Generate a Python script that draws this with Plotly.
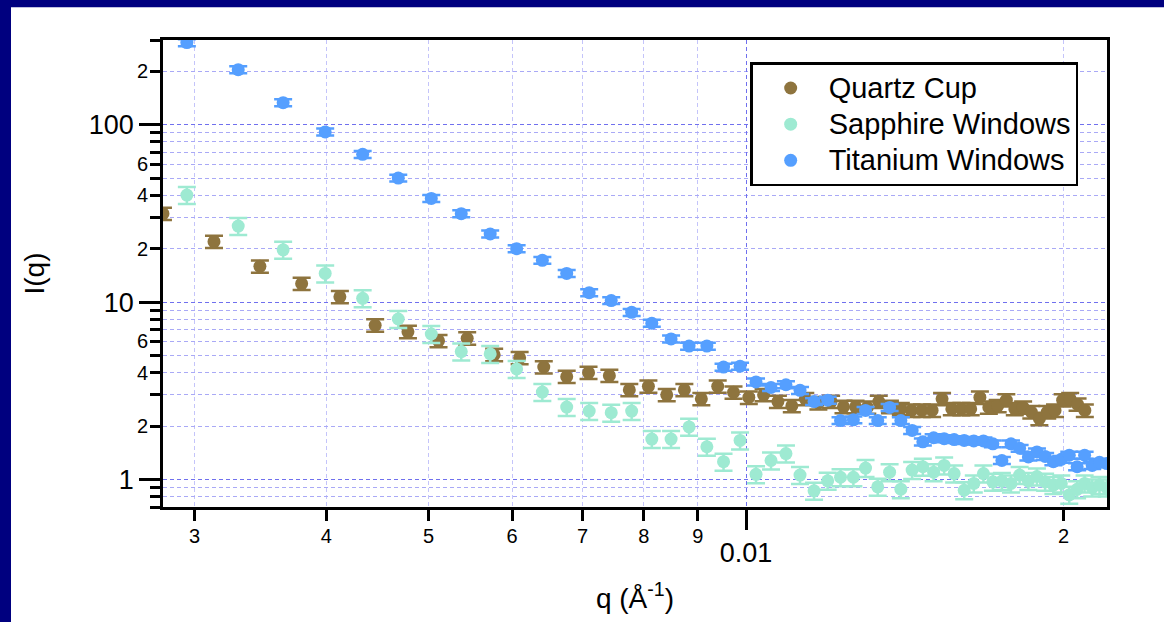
import plotly.graph_objects as go

# ---------------- data ----------------
q_quartz = [0.00280, 0.00313, 0.00346, 0.00379, 0.00412, 0.00445, 0.00478, 0.00511,
            0.00544, 0.00577, 0.00610, 0.00643, 0.00676, 0.00709, 0.00742, 0.00775,
            0.00808, 0.00841, 0.00874, 0.00907, 0.00940, 0.00973, 0.01006, 0.01039,
            0.01072, 0.01105, 0.01138, 0.01171, 0.01204, 0.01237, 0.01270, 0.01303,
            0.01336, 0.01369, 0.01402, 0.01435, 0.01468, 0.01501, 0.01534, 0.01567,
            0.01600, 0.01633, 0.01666, 0.01699, 0.01732, 0.01765, 0.01798, 0.01831,
            0.01864, 0.01897, 0.01930, 0.01963, 0.01996, 0.02029, 0.02062, 0.02095]
i_quartz = [31.5, 21.9, 15.9, 12.7, 10.7, 7.4, 6.8, 6.05, 6.25, 5.05,
            4.85, 4.3, 3.8, 4.0, 3.85, 3.2, 3.35, 3.0, 3.2, 2.85,
            3.35, 3.1, 2.9, 3.0, 2.75, 2.6, 2.85, 2.7, 2.75, 2.57,
            2.57, 2.55, 2.75, 2.57, 2.5, 2.45, 2.45, 2.45, 2.85, 2.5,
            2.5, 2.5, 2.9, 2.55, 2.6, 2.8, 2.5, 2.55, 2.4, 2.2,
            2.4, 2.45, 2.8, 2.85, 2.65, 2.45]

q_windows = [0.00295, 0.00330, 0.00364, 0.00399, 0.00433, 0.00468, 0.00503, 0.00537,
             0.00572, 0.00606, 0.00641, 0.00676, 0.00710, 0.00745, 0.00779, 0.00814,
             0.00849, 0.00883, 0.00918, 0.00952, 0.00987, 0.01022, 0.01056, 0.01091,
             0.01125, 0.01160, 0.01195, 0.01229, 0.01264, 0.01298, 0.01333, 0.01368,
             0.01402, 0.01437, 0.01471, 0.01506, 0.01541, 0.01575, 0.01610, 0.01644,
             0.01679, 0.01714, 0.01748, 0.01783, 0.01817, 0.01852, 0.01887, 0.01921,
             0.01956, 0.01990, 0.02025, 0.02060, 0.02094, 0.02129, 0.02163, 0.02198]
i_sapphire = [40.1, 26.8, 19.7, 14.5, 10.5, 8.03, 6.61, 5.26, 5.1, 4.2,
              3.11, 2.56, 2.43, 2.38, 2.43, 1.69, 1.69, 1.98, 1.53, 1.26,
              1.66, 1.07, 1.28, 1.40, 1.06, 0.864, 0.983, 1.03, 1.03, 1.16,
              0.91, 1.10, 0.882, 1.13, 1.18, 1.10, 1.20, 1.08, 0.87, 0.95,
              1.08, 0.97, 0.98, 0.95, 1.06, 0.98, 1.04, 0.97, 0.93, 0.95,
              0.82, 0.88, 0.95, 0.9, 0.93, 0.9]
i_titanium = [290, 204, 133, 91, 68, 50, 38.4, 31.5, 24.2, 20.0,
              17.2, 14.5, 11.3, 10.2, 8.75, 7.6, 6.2, 5.65, 5.65, 4.3,
              4.35, 3.55, 3.3, 3.42, 3.18, 2.75, 2.8, 2.15, 2.17, 2.45,
              2.15, 2.55, 2.15, 1.89, 1.63, 1.72, 1.7, 1.68, 1.66, 1.65,
              1.65, 1.59, 1.28, 1.59, 1.5, 1.34, 1.43, 1.35, 1.26, 1.3,
              1.37, 1.18, 1.37, 1.2, 1.25, 1.23]

# relative error (percent) per series
err_pct = {"Quartz Cup": 8, "Sapphire Windows": 11, "Titanium Windows": 4.5}

# tick definitions
x_major_vals = [0.01]
x_major_text = ["0.01"]
x_minor_vals = [0.003, 0.004, 0.005, 0.006, 0.007, 0.008, 0.009, 0.02]
x_minor_text = ["3", "4", "5", "6", "7", "8", "9", "2"]
y_major_vals = [1, 10, 100]
y_major_text = ["1", "10", "100"]
y_minor_vals = [0.7, 0.8, 0.9, 2, 3, 4, 5, 6, 7, 8, 9,
                20, 30, 40, 50, 60, 70, 80, 90, 200, 300]
y_minor_lab_vals = [2, 4, 6, 20, 40, 60, 200]
y_minor_lab_text = ["2", "4", "6", "2", "4", "6", "2"]

series = [
    ("Quartz Cup", q_quartz, i_quartz, "#8E743E"),
    ("Sapphire Windows", q_windows, i_sapphire, "#9EEAD2"),
    ("Titanium Windows", q_windows, i_titanium, "#559FFF"),
]

FONT = "Liberation Sans, Arial, sans-serif"
W, H = 1164, 622
ML, MR, MT, MB = 163, 57, 40, 113

XR = [-2.5528, -1.6578]
YR = [-0.1549, 2.4771]

fig = go.Figure()
for name, q, iv, col in series:
    fig.add_trace(go.Scatter(
        x=q, y=iv, mode="markers",
        name=f'<span style="font-size:29px">{name}</span>',
        marker=dict(color=col, size=13, line=dict(width=0)),
        error_y=dict(type="percent", value=err_pct[name], color=col,
                     thickness=2.5, width=9),
    ))

# transparent copy of one series so the label-only overlay axes get drawn
fig.add_trace(go.Scatter(
    x=q_quartz, y=i_quartz, xaxis="x2", yaxis="y2", mode="markers",
    marker=dict(opacity=0, size=1), showlegend=False, hoverinfo="skip",
))

grid_minor_y = "#a9a9f6"
grid_minor_x = "#c4c4fa"
grid_major = "#7070ee"
dash = "4px,3px"

fig.update_layout(
    width=W, height=H,
    margin=dict(l=ML, r=MR, t=MT, b=MB),
    paper_bgcolor="#00007f",
    plot_bgcolor="white",
    font=dict(family=FONT, color="black"),
    showlegend=True,
    legend=dict(
        x=0.622, y=0.952, xanchor="left", yanchor="top",
        bgcolor="white", bordercolor="black", borderwidth=2.5,
        font=dict(size=25.5, family=FONT, color="black"),
        itemwidth=66, tracegroupgap=0,
    ),
    xaxis=dict(
        type="log", range=XR, tickmode="array",
        tickvals=x_major_vals, ticktext=x_major_text,
        ticks="outside", ticklen=20, tickwidth=2.5, tickcolor="black",
        tickfont=dict(size=27, family=FONT, color="black"),
        showline=True, linecolor="black", linewidth=2.5, mirror=True,
        showgrid=True, gridcolor=grid_major, griddash=dash, gridwidth=1,
        zeroline=False,
        minor=dict(tickmode="array", tickvals=x_minor_vals, ticks="outside",
                   ticklen=11, tickwidth=2.5, tickcolor="black",
                   showgrid=True, gridcolor=grid_minor_x, griddash=dash,
                   gridwidth=1),
        title=dict(text="q (Å<sup>-1</sup>)",
                   font=dict(size=28, family=FONT, color="black"),
                   standoff=22),
    ),
    xaxis2=dict(
        type="log", range=XR, overlaying="x", anchor="y", side="bottom",
        tickmode="array", tickvals=x_minor_vals, ticktext=x_minor_text,
        ticks="outside", ticklen=11, tickwidth=2.5, tickcolor="black",
        tickfont=dict(size=20, family=FONT, color="black"),
        showline=False, showgrid=False, zeroline=False,
    ),
    yaxis=dict(
        type="log", range=YR, tickmode="array",
        tickvals=y_major_vals, ticktext=y_major_text,
        ticks="outside", ticklen=21, tickwidth=2.5, tickcolor="black",
        tickfont=dict(size=27, family=FONT, color="black"),
        showline=True, linecolor="black", linewidth=2.5, mirror=True,
        showgrid=True, gridcolor=grid_major, griddash=dash, gridwidth=1,
        zeroline=False,
        minor=dict(tickmode="array", tickvals=y_minor_vals, ticks="outside",
                   ticklen=10, tickwidth=2.5, tickcolor="black",
                   showgrid=True, gridcolor=grid_minor_y, griddash=dash,
                   gridwidth=1),
        title=dict(text="I(q)",
                   font=dict(size=28, family=FONT, color="black"),
                   standoff=36),
    ),
    yaxis2=dict(
        type="log", range=YR, overlaying="y", anchor="x", side="left",
        tickmode="array", tickvals=y_minor_lab_vals, ticktext=y_minor_lab_text,
        ticks="outside", ticklen=10, tickwidth=2.5, tickcolor="black",
        tickfont=dict(size=20, family=FONT, color="black"),
        showline=False, showgrid=False, zeroline=False,
    ),
    shapes=[dict(
        type="rect", xref="paper", yref="paper", layer="below",
        x0=(11 - ML) / (W - ML - MR), x1=1.2,
        y0=-0.5, y1=(H - MB - 7) / (H - MT - MB),
        fillcolor="white", line=dict(width=0),
    )],
)

fig.write_html(
    "out.html",
    config={"displayModeBar": False},
    post_script="document.body.style.margin='0px';"
                "document.body.style.padding='0px';"
                "document.body.style.overflow='hidden';",
)
